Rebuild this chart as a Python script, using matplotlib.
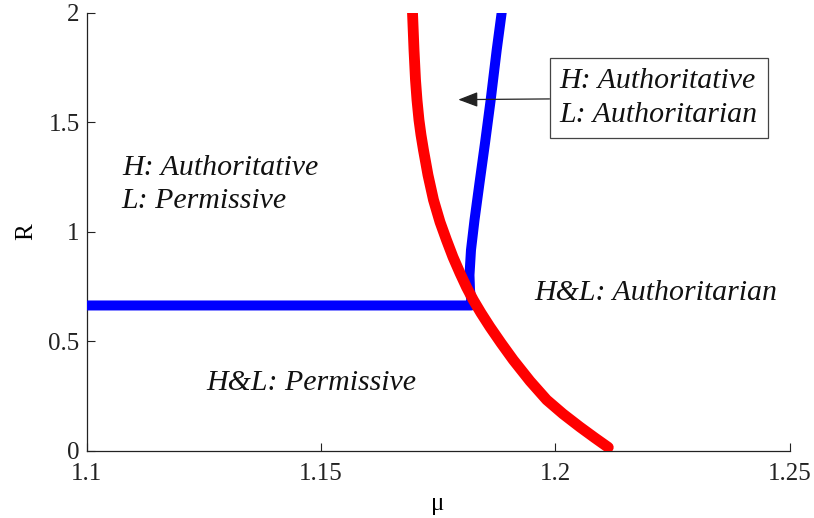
import matplotlib
matplotlib.use("Agg")
import matplotlib.pyplot as plt

plt.rcParams['font.family'] = ['Liberation Serif', 'DejaVu Serif']

# Red boundary curve (mu, R)
red_mu = [1.16953, 1.16985, 1.17017, 1.17049, 1.17091, 1.17134, 1.17187,
          1.17283, 1.17401, 1.17540, 1.17678, 1.17817, 1.17966, 1.18105,
          1.18250, 1.18414, 1.18606, 1.18841, 1.19104, 1.19460, 1.19816,
          1.20164, 1.20527, 1.20847, 1.21131]
red_R = [2.0, 1.830, 1.693, 1.601, 1.510, 1.442, 1.373,
         1.259, 1.145, 1.044, 0.962, 0.884, 0.811, 0.747,
         0.688, 0.629, 0.565, 0.492, 0.414, 0.318, 0.232,
         0.168, 0.108, 0.058, 0.015]

# Blue boundary curve (mu, R)
blue_mu = [1.1, 1.18212, 1.18212, 1.18180, 1.18169, 1.18201, 1.18276,
           1.18382, 1.18500, 1.18621, 1.18750, 1.18856]
blue_R = [0.663, 0.663, 0.679, 0.734, 0.802, 0.916, 1.053,
          1.221, 1.404, 1.601, 1.830, 2.0]

xticks = [1.1, 1.15, 1.2, 1.25]
xtick_labels = ['1.1', '1.15', '1.2', '1.25']
yticks = [0, 0.5, 1, 1.5, 2]
ytick_labels = ['0', '0.5', '1', '1.5', '2']

fig = plt.figure(figsize=(8.14, 5.18), dpi=100)
ax = fig.add_axes([0.1065, 0.130, 0.8635, 0.8455])

ax.plot(blue_mu, blue_R, color='#0000ff', lw=7.2, solid_capstyle='round',
        solid_joinstyle='round', zorder=3)
ax.plot(red_mu, red_R, color='#ff0000', lw=7.8, solid_capstyle='round',
        solid_joinstyle='round', zorder=4)

ax.set_xlim(1.1, 1.25)
ax.set_ylim(0, 2)
ax.set_xticks(xticks)
ax.set_xticklabels(xtick_labels)
ax.set_yticks(yticks)
ax.set_yticklabels(ytick_labels)
ax.tick_params(direction='in', length=6, width=0.8, labelsize=18, colors='#222222')
ax.tick_params(axis='y', pad=5)
ax.tick_params(axis='x', pad=9)
for s in ['top', 'right']:
    ax.spines[s].set_visible(False)
for s in ['left', 'bottom']:
    ax.spines[s].set_linewidth(0.9)
    ax.spines[s].set_color('#222222')

ax.set_xlabel('μ', fontsize=18, labelpad=6)
ax.set_ylabel('R', fontsize=18, labelpad=8)

tkw = dict(fontsize=21.5, style='italic', color='#111111')
ax.text(1.1075, 1.216, 'H: Authoritative\nL: Permissive', ha='left', va='center',
        linespacing=1.36, **tkw)
ax.text(1.1255, 0.308, 'H&L: Permissive', ha='left', va='center', **tkw)
ax.text(1.1955, 0.719, 'H&L: Authoritarian', ha='left', va='center', **tkw)

ax.annotate('H: Authoritative\nL: Authoritarian', xy=(1.1793, 1.603),
            xytext=(1.2221, 1.61), ha='center', va='center', multialignment='left',
            linespacing=1.42,
            bbox=dict(boxstyle='square,pad=0.33', fc='white', ec='#444444', lw=0.9),
            arrowprops=dict(arrowstyle='-|>,head_length=0.6,head_width=0.23',
                            mutation_scale=20, color='#222222', lw=0.9,
                            shrinkA=0, shrinkB=0),
            zorder=5, **tkw)

fig.savefig('out.png', dpi=100)
